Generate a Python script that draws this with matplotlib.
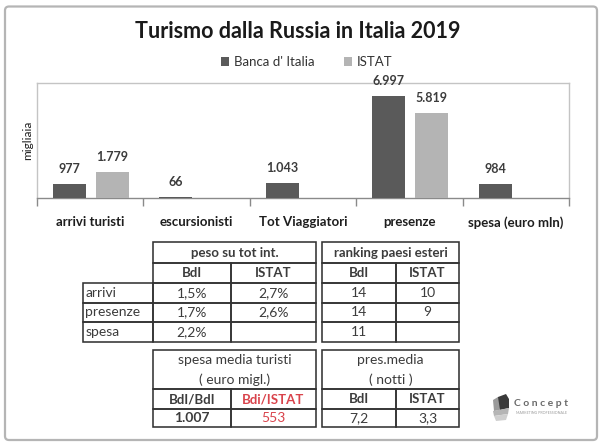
import matplotlib
matplotlib.use("Agg")
import matplotlib.pyplot as plt
from matplotlib.patches import FancyBboxPatch, Rectangle, Polygon

# ---------------- data ----------------
categories = ["arrivi turisti", "escursionisti", "Tot Viaggiatori", "presenze", "spesa (euro mln)"]
bdi_values = [977, 66, 1043, 6997, 984]
istat_values = [1779, None, None, 5819, None]
series_names = ["Banca d' Italia", "ISTAT"]
title = "Turismo dalla Russia in Italia 2019"
y_label = "migliaia"

peso_header = "peso su tot int."
rank_header = "ranking paesi esteri"
col_heads = ["BdI", "ISTAT"]
row_names = ["arrivi", "presenze", "spesa"]
peso_bdi = ["1,5%", "1,7%", "2,2%"]
peso_istat = ["2,7%", "2,6%", ""]
rank_bdi = ["14", "14", "11"]
rank_istat = ["10", "9", ""]

spesa_header = ["spesa media turisti", "( euro migl.)"]
spesa_cols = ["BdI/BdI", "Bdi/ISTAT"]
spesa_vals = ["1.007", "553"]
pres_header = ["pres.media", "( notti )"]
pres_cols = ["BdI", "ISTAT"]
pres_vals = ["7,2", "3,3"]

# ---------------- style ----------------
FONT = "Lato"
plt.rcParams["font.family"] = [FONT, "DejaVu Sans"]
C_BDI = "#5a5a5a"
C_ISTAT = "#b4b4b4"
C_TXT = "#3c3c3c"
C_RED = "#d9434b"
C_LINE = "#333333"

W, H = 600, 448
fig = plt.figure(figsize=(6, 4.48), dpi=100)
bg = fig.add_axes([0, 0, 1, 1])
bg.set_xlim(0, W)
bg.set_ylim(H, 0)
bg.axis("off")

# outer rounded border
bg.add_patch(FancyBboxPatch((5, 6.5), 592, 433.5,
                            boxstyle="round,pad=0,rounding_size=4",
                            fc="white", ec="#b5b5b5", lw=1.6, zorder=0))

# title
bg.text(298, 31, title, ha="center", va="center", fontsize=15.5,
        fontweight="bold", color="#1a1a1a")

# ---------------- bar chart ----------------
L, R, T, B = 37, 569, 83, 198
ax = fig.add_axes([L / W, 1 - B / H, (R - L) / W, (B - T) / H])
x = list(range(len(categories)))
bw = 0.31
off_b, off_i = -0.195, 0.205
b1 = ax.bar([i + off_b for i in x], bdi_values, width=bw, color=C_BDI,
            label=series_names[0], zorder=3)
ix = [i for i, v in zip(x, istat_values) if v is not None]
iv = [v for v in istat_values if v is not None]
b2 = ax.bar([i + off_i for i in ix], iv, width=bw, color=C_ISTAT,
            label=series_names[1], zorder=3)

def fmt(v):
    return f"{v:,}".replace(",", ".")

for i, v in zip(x, bdi_values):
    ax.annotate(fmt(v), (i + off_b, v), xytext=(0, 15), textcoords="offset pixels",
                ha="center", va="center", fontsize=9, fontweight="bold", color=C_TXT)
for i, v in zip(ix, iv):
    ax.annotate(fmt(v), (i + off_i, v), xytext=(0, 15), textcoords="offset pixels",
                ha="center", va="center", fontsize=9, fontweight="bold", color=C_TXT)

ax.set_xlim(-0.5, len(categories) - 0.5)
ax.set_ylim(0, 7880)
ax.set_yticks([])
ax.set_xticks([i - 0.5 for i in range(len(categories) + 1)])
ax.set_xticklabels([])
ax.tick_params(axis="x", which="major", length=6, color="#8a8a8a", width=1)
ax.set_xticks(x, minor=True)
ax.set_xticklabels(categories, minor=True, fontsize=9.5, fontweight="bold", color="#1e1e1e")
ax.tick_params(axis="x", which="minor", length=0, pad=13)
for s in ["top", "left", "right"]:
    ax.spines[s].set_color("#c4c4c4")
    ax.spines[s].set_linewidth(1)
ax.spines["bottom"].set_color("#8a8a8a")
ax.spines["bottom"].set_linewidth(1)
ax.patch.set_alpha(0)

bg.text(28, 140, y_label, rotation=90, ha="center", va="center",
        fontsize=8.5, color="#1e1e1e")

fig.legend(handles=[b1, b2], labels=series_names, loc="center",
           bbox_to_anchor=(307 / W, 1 - 62 / H), ncol=2, frameon=False,
           fontsize=9.5, handlelength=0.6, handleheight=0.6, handletextpad=0.4,
           columnspacing=2.2, labelcolor="#333333")

# ---------------- tables ----------------
def cell(x0, y0, x1, y1):
    bg.add_patch(Rectangle((x0, y0), x1 - x0, y1 - y0, fill=False,
                           ec=C_LINE, lw=1.15, zorder=2))

def txt(xc, yc, s, bold=False, color=C_TXT, ha="center", size=9.5):
    bg.text(xc, yc, s, ha=ha, va="center", fontsize=size,
            fontweight="bold" if bold else "normal", color=color, zorder=3)

ys = [242.3, 263.3, 282.7, 302.7, 322.3, 342]

# table 1
t1 = [152.7, 230.7, 316]
cell(t1[0], ys[0], t1[2], ys[1])
txt((t1[0] + t1[2]) / 2, (ys[0] + ys[1]) / 2, peso_header, bold=True)
for k in range(2):
    cell(t1[k], ys[1], t1[k + 1], ys[2])
    txt((t1[k] + t1[k + 1]) / 2, (ys[1] + ys[2]) / 2, col_heads[k], bold=True)
for r in range(3):
    y0, y1 = ys[2 + r], ys[3 + r]
    cell(83.3, y0, t1[0], y1)
    txt(85.5, (y0 + y1) / 2, row_names[r], ha="left", size=10)
    cell(t1[0], y0, t1[1], y1)
    cell(t1[1], y0, t1[2], y1)
    txt((t1[0] + t1[1]) / 2, (y0 + y1) / 2, peso_bdi[r], size=10)
    txt((t1[1] + t1[2]) / 2, (y0 + y1) / 2, peso_istat[r], size=10)

# table 2
t2 = [321.7, 396, 459.3]
cell(t2[0], ys[0], t2[2], ys[1])
txt((t2[0] + t2[2]) / 2, (ys[0] + ys[1]) / 2, rank_header, bold=True)
for k in range(2):
    cell(t2[k], ys[1], t2[k + 1], ys[2])
    txt((t2[k] + t2[k + 1]) / 2, (ys[1] + ys[2]) / 2, col_heads[k], bold=True)
for r in range(3):
    y0, y1 = ys[2 + r], ys[3 + r]
    cell(t2[0], y0, t2[1], y1)
    cell(t2[1], y0, t2[2], y1)
    txt((t2[0] + t2[1]) / 2, (y0 + y1) / 2, rank_bdi[r], size=10)
    txt((t2[1] + t2[2]) / 2, (y0 + y1) / 2, rank_istat[r], size=10)

# table 3 and 4
yb = [350, 389, 409, 427.3]
for tx, head, cols, vals, colcolors, valbold in [
        ([152.7, 230.7, 316], spesa_header, spesa_cols, spesa_vals, [C_TXT, C_RED], True),
        ([321.7, 396, 459.3], pres_header, pres_cols, pres_vals, [C_TXT, C_TXT], False)]:
    cell(tx[0], yb[0], tx[2], yb[1])
    txt((tx[0] + tx[2]) / 2, 360.5, head[0], size=10)
    txt((tx[0] + tx[2]) / 2, 379.5, head[1], size=10)
    for k in range(2):
        cell(tx[k], yb[1], tx[k + 1], yb[2])
        txt((tx[k] + tx[k + 1]) / 2, (yb[1] + yb[2]) / 2, cols[k], bold=True,
            color=colcolors[k])
        cell(tx[k], yb[2], tx[k + 1], yb[3])
        txt((tx[k] + tx[k + 1]) / 2, (yb[2] + yb[3]) / 2, vals[k],
            bold=valbold and colcolors[k] == C_TXT, color=colcolors[k], size=10)

# ---------------- logo ----------------
bg.add_patch(Polygon([(498, 397), (506, 394), (509, 399), (509, 408), (500, 410), (497, 405)],
                     closed=True, fc="#3a3a3a", ec="none", zorder=2))
bg.add_patch(Polygon([(493, 400), (498, 397), (500, 410), (494, 411)],
                     closed=True, fc="#9a9a9a", ec="none", zorder=2))
bg.add_patch(Polygon([(493, 411), (509, 408), (508, 414), (494, 416)],
                     closed=True, fc="#b5b5b5", ec="none", zorder=2))
bg.add_patch(Polygon([(494, 416), (508, 414), (506, 420), (496, 421)],
                     closed=True, fc="#cfcfcf", ec="none", zorder=2))
bg.text(541, 404, "C o n c e p t", ha="center", va="center", fontsize=7.5,
        fontweight="bold", color="#6a6a6a")
bg.text(541, 413, "MARKETING PROFESSIONALE", ha="center", va="center",
        fontsize=2.6, color="#9a9a9a")

fig.savefig("out.png", dpi=100)
